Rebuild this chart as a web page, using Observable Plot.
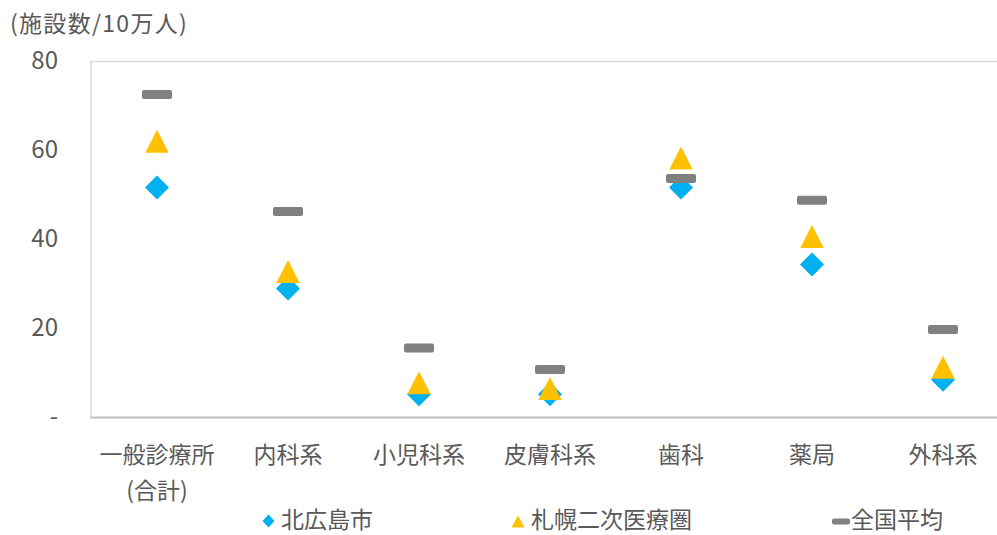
<!DOCTYPE html>
<html lang="ja">
<head>
<meta charset="utf-8">
<script src="https://cdn.jsdelivr.net/npm/d3@7"></script>
<script src="https://cdn.jsdelivr.net/npm/@observablehq/plot@0.6"></script>
<style>
  html, body { margin: 0; padding: 0; background: #fff; }
  body { font-family: "Noto Sans CJK JP", "Noto Sans", sans-serif; color: #595959; }
  #wrap { position: relative; width: 997px; height: 535px; overflow: hidden; }
  #title { position: relative; height: 45px; }
  #title span { position: absolute; left: 10px; top: 11px; font-size: 23px; line-height: 23px; letter-spacing: 1.3px; white-space: nowrap; }
  #chart { height: 460px; }
  #chart svg { overflow: visible; }
  #legend { position: relative; height: 30px; }
  #legend .sym { position: absolute; }
  #legend .lab { position: absolute; top: 1.5px; font-size: 23px; line-height: 23px; white-space: nowrap; }
</style>
</head>
<body>
<div id="wrap">
  <div id="title"><span>(施設数/10万人)</span></div>
  <div id="chart"></div>
  <div id="legend"></div>
</div>
<script>
// ---- data ----
const categories = ["一般診療所\n(合計)", "内科系", "小児科系", "皮膚科系", "歯科", "薬局", "外科系"];
const seriesNames = ["北広島市", "札幌二次医療圏", "全国平均"];
const kitahiroshima = [51.7, 29.0, 5.2, 5.2, 51.7, 34.4, 8.5];
const sapporo = [62.1, 32.8, 7.8, 6.5, 58.3, 40.7, 11.3];
const national = [72.6, 46.3, 15.6, 10.8, 53.7, 48.8, 19.8];
const yTicks = [0, 20, 40, 60, 80];

// ---- custom symbols ----
const diamondSym = { draw(c) { const h = 12; c.moveTo(0, -h); c.lineTo(h, 0); c.lineTo(0, h); c.lineTo(-h, 0); c.closePath(); } };
const triangleSym = { draw(c) { const w = 11.7, h = 11.5; c.moveTo(0, -h); c.lineTo(w, h); c.lineTo(-w, h); c.closePath(); } };
const dashSym = { draw(c) {
  const w = 15, h = 4.5, r = 2;
  c.moveTo(-w + r, -h); c.lineTo(w - r, -h); c.arcTo(w, -h, w, -h + r, r);
  c.lineTo(w, h - r); c.arcTo(w, h, w - r, h, r);
  c.lineTo(-w + r, h); c.arcTo(-w, h, -w, h - r, r);
  c.lineTo(-w, -h + r); c.arcTo(-w, -h, -w + r, -h, r); c.closePath();
} };

const rows = (vals) => categories.map((c, i) => ({ cat: c, v: vals[i] }));

const chart = Plot.plot({
  width: 997,
  height: 460,
  marginTop: 16,
  marginBottom: 88,
  marginLeft: 90.5,
  marginRight: 0,
  style: { fontFamily: '"Noto Sans CJK JP", sans-serif', color: "#595959", background: "#fff", overflow: "visible" },
  x: { type: "band", domain: categories, range: [90.5, 1007.5], padding: 0 },
  y: { domain: [0, 80], range: [372, 16] },
  marks: [
    Plot.ruleY([80], { stroke: "#d9d9d9", strokeWidth: 1.3 }),
    Plot.frame({ anchor: "left", stroke: "#d0d0d0", strokeWidth: 1.3 }),
    Plot.ruleY([0], { stroke: "#bfbfbf", strokeWidth: 1.8 }),
    Plot.axisY({ ticks: yTicks, tickSize: 0, tickPadding: 33, fontSize: 24, fill: "#595959",
      tickFormat: d => d === 0 ? "-" : String(d), label: null }),
    Plot.axisX({ tickSize: 0, tickPadding: 20, fontSize: 23, fill: "#595959", lineHeight: 1.565, label: null }),
    Plot.dot(rows(kitahiroshima), { x: "cat", y: "v", symbol: diamondSym, r: 10, fill: "#00B0F0", stroke: "none" }),
    Plot.dot(rows(sapporo), { x: "cat", y: "v", symbol: triangleSym, r: 10, fill: "#FFC000", stroke: "none" }),
    Plot.dot(rows(national), { x: "cat", y: "v", symbol: dashSym, r: 10, fill: "#808080", stroke: "none" })
  ]
});
document.getElementById("chart").appendChild(chart);

// ---- legend ----
const legend = document.getElementById("legend");
const legendItems = [
  { name: seriesNames[0], symLeft: 262, labLeft: 281, svg: '<svg width="13" height="14" viewBox="0 0 13 14"><path d="M6.5 0.5 L12.5 7 L6.5 13.5 L0.5 7 Z" fill="#00B0F0"/></svg>', symTop: 9 },
  { name: seriesNames[1], symLeft: 511, labLeft: 531, svg: '<svg width="14" height="13" viewBox="0 0 14 13"><path d="M7 0.5 L13.5 12.5 L0.5 12.5 Z" fill="#FFC000"/></svg>', symTop: 10 },
  { name: seriesNames[2], symLeft: 832, labLeft: 851, svg: '<svg width="18" height="7" viewBox="0 0 18 7"><rect x="0" y="0.5" width="18" height="6" rx="2" fill="#808080"/></svg>', symTop: 13 }
];
for (const it of legendItems) {
  const s = document.createElement("span");
  s.className = "sym"; s.style.left = it.symLeft + "px"; s.style.top = it.symTop + "px";
  s.style.lineHeight = "0"; s.innerHTML = it.svg;
  legend.appendChild(s);
  const t = document.createElement("span");
  t.className = "lab"; t.style.left = it.labLeft + "px"; t.textContent = it.name;
  legend.appendChild(t);
}
</script>
</body>
</html>
